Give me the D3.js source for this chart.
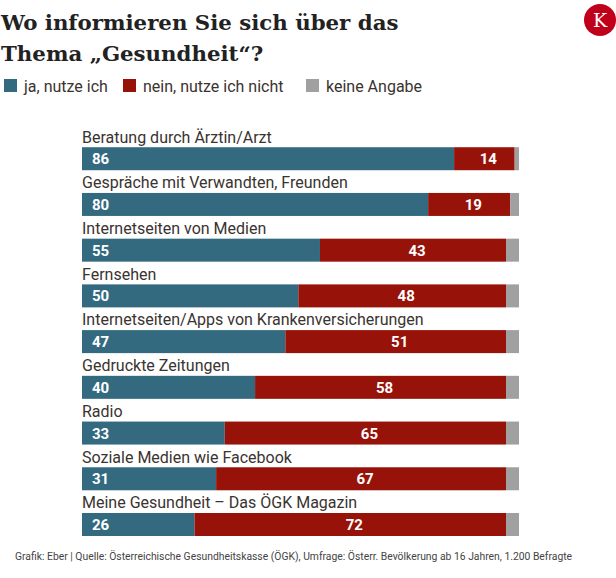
<!DOCTYPE html>
<html><head><meta charset="utf-8">
<script src="https://cdn.jsdelivr.net/npm/d3@7"></script>
<style>
html,body{margin:0;padding:0;background:#fff;}
svg{display:block;}
</style></head>
<body>
<script>
const categories = [
  "Beratung durch Ärztin/Arzt",
  "Gespräche mit Verwandten, Freunden",
  "Internetseiten von Medien",
  "Fernsehen",
  "Internetseiten/Apps von Krankenversicherungen",
  "Gedruckte Zeitungen",
  "Radio",
  "Soziale Medien wie Facebook",
  "Meine Gesundheit – Das ÖGK Magazin"
];
const jaValues    = [86, 80, 55, 50, 47, 40, 33, 31, 26];
const neinValues  = [14, 19, 43, 48, 51, 58, 65, 67, 72];
const keineValues = [1, 2, 3, 3, 3, 3, 3, 3, 3];
const seriesNames = ["ja, nutze ich", "nein, nutze ich nicht", "keine Angabe"];
const seriesColors = ["#336a80", "#97130a", "#a0a0a0"];
const titleLines = ["Wo informieren Sie sich über das", "Thema „Gesundheit“?"];
const footer = "Grafik: Eber | Quelle: Österreichische Gesundheitskasse (ÖGK), Umfrage: Österr. Bevölkerung ab 16 Jahren, 1.200 Befragte";

const W = 616, H = 578;
const svg = d3.select("body").append("svg").attr("width", W).attr("height", H);

// Title
const title = svg.append("text").attr("font-family", "'DejaVu Serif', serif")
  .attr("font-weight", "bold").attr("font-size", 21.3).attr("fill", "#222");
titleLines.forEach((t, i) => title.append("tspan").attr("x", 1).attr("y", 30 + i * 31).text(t));

// Logo
svg.append("circle").attr("cx", 600).attr("cy", 20).attr("r", 16).attr("fill", "#c0001a");
svg.append("text").attr("x", 600).attr("y", 27).attr("text-anchor", "middle")
  .attr("font-family", "'DejaVu Serif', serif").attr("font-size", 19).attr("fill", "#fff").text("K");

// Legend
const legendX = [4, 123, 306];
const lg = svg.append("g");
seriesNames.forEach((n, i) => {
  lg.append("rect").attr("x", legendX[i]).attr("y", 79).attr("width", 13).attr("height", 13).attr("fill", seriesColors[i]);
  lg.append("text").attr("x", legendX[i] + 20).attr("y", 92).attr("font-family", "Roboto, sans-serif")
    .attr("font-size", 16).attr("fill", "#3a3330").text(n);
});

// Scales
const x = d3.scaleLinear().domain([0, 101]).range([82, 519]);
const y = d3.scaleBand().domain(categories).range([124.5, 536]).paddingInner(0).paddingOuter(0);
const data = categories.map((c, i) => ({c, vals: [jaValues[i], neinValues[i], keineValues[i]]}));
const stacked = d3.stack().keys([0, 1, 2]).value((d, k) => d.vals[k])(data);

const bandH = y.bandwidth();
const barH = 23;
const rows = svg.append("g");
data.forEach(d => {
  rows.append("text").attr("x", 82).attr("y", y(d.c) + 18).attr("font-family", "Roboto, sans-serif")
    .attr("font-size", 16).attr("fill", "#3a3330").text(d.c);
});
stacked.forEach((s, k) => {
  rows.selectAll(null).data(s).join("rect")
    .attr("x", d => x(d[0])).attr("width", d => x(d[1]) - x(d[0]))
    .attr("y", d => y(d.data.c) + bandH - barH).attr("height", barH)
    .attr("fill", seriesColors[k]);
});
// value labels
stacked[0].forEach(d => {
  rows.append("text").attr("x", x(d[0]) + 10).attr("y", y(d.data.c) + bandH - barH / 2 + 5.5)
    .attr("font-family", "Roboto, sans-serif").attr("font-weight", "bold").attr("font-size", 15)
    .attr("fill", "#fff").text(d[1] - d[0]);
});
stacked[1].forEach(d => {
  rows.append("text").attr("x", (x(d[0]) + x(d[1])) / 2 + 4).attr("y", y(d.data.c) + bandH - barH / 2 + 5.5)
    .attr("text-anchor", "middle")
    .attr("font-family", "Roboto, sans-serif").attr("font-weight", "bold").attr("font-size", 15)
    .attr("fill", "#fff").text(d[1] - d[0]);
});

// Footer
svg.append("text").attr("x", 15).attr("y", 560).attr("font-family", "Roboto, sans-serif")
  .attr("font-size", 10.35).attr("fill", "#444").text(footer);
</script>
</body></html>
